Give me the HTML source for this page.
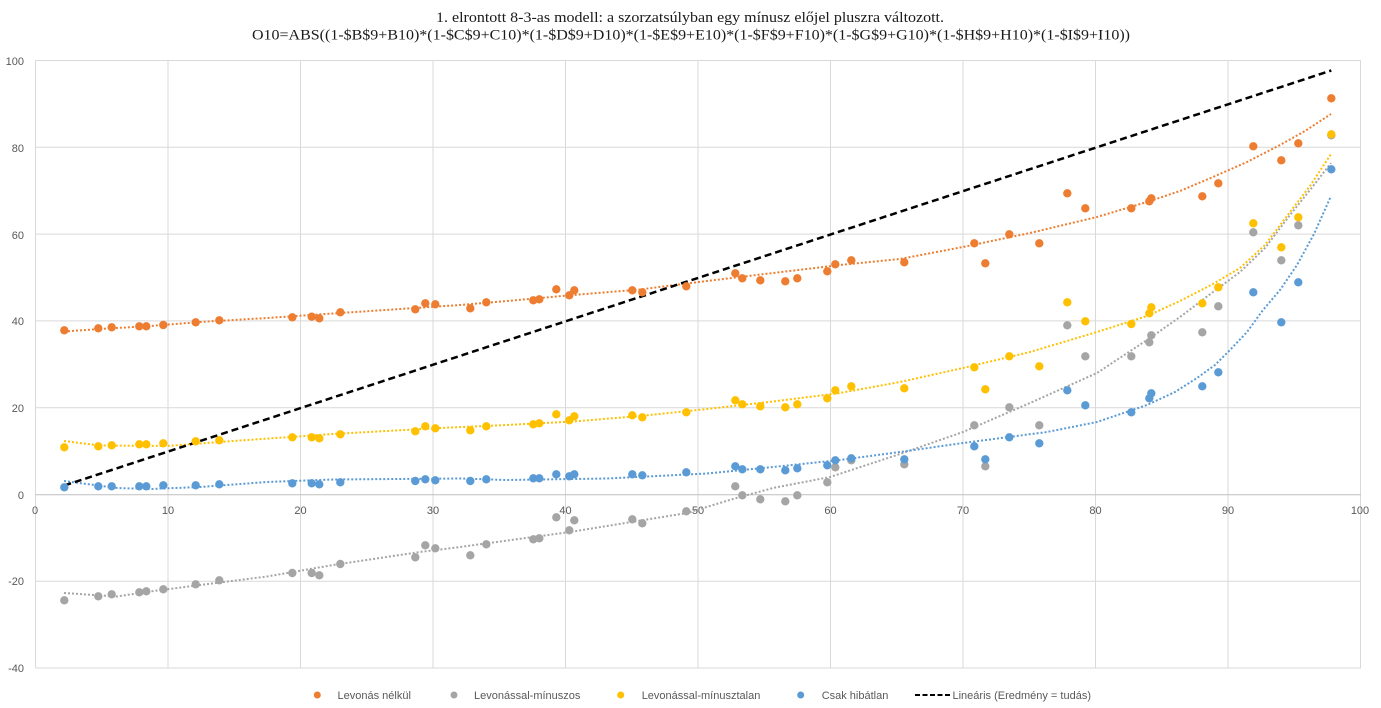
<!DOCTYPE html>
<html><head><meta charset="utf-8"><style>
html,body{margin:0;padding:0;background:#fff;}
svg{display:block;}
.t{font-family:"Liberation Sans",sans-serif;font-size:11px;fill:#595959;}
.ti{font-family:"Liberation Serif",serif;font-size:15px;fill:#1a1a1a;}
</style></head><body>
<svg xmlns="http://www.w3.org/2000/svg" width="1381" height="708" viewBox="0 0 1381 708">
<rect width="1381" height="708" fill="#fff"/>
<text class="ti" x="436" y="22" textLength="508" lengthAdjust="spacingAndGlyphs">1. elrontott 8-3-as modell: a szorzatsúlyban egy mínusz előjel pluszra változott.</text>
<text class="ti" x="252" y="39.5" textLength="878" lengthAdjust="spacingAndGlyphs">O10=ABS((1-$B$9+B10)*(1-$C$9+C10)*(1-$D$9+D10)*(1-$E$9+E10)*(1-$F$9+F10)*(1-$G$9+G10)*(1-$H$9+H10)*(1-$I$9+I10))</text>
<g stroke="#d9d9d9" stroke-width="1">
<line x1="35.5" y1="60.5" x2="1361" y2="60.5"/>
<line x1="35.5" y1="147.3" x2="1361" y2="147.3"/>
<line x1="35.5" y1="234.1" x2="1361" y2="234.1"/>
<line x1="35.5" y1="320.9" x2="1361" y2="320.9"/>
<line x1="35.5" y1="407.7" x2="1361" y2="407.7"/>
<line x1="35.5" y1="581.3" x2="1361" y2="581.3"/>
<line x1="35.5" y1="668" x2="1361" y2="668"/>
<line x1="35.5" y1="60" x2="35.5" y2="668"/>
<line x1="168" y1="60" x2="168" y2="668"/>
<line x1="300.5" y1="60" x2="300.5" y2="668"/>
<line x1="433" y1="60" x2="433" y2="668"/>
<line x1="565.5" y1="60" x2="565.5" y2="668"/>
<line x1="698" y1="60" x2="698" y2="668"/>
<line x1="830.5" y1="60" x2="830.5" y2="668"/>
<line x1="963" y1="60" x2="963" y2="668"/>
<line x1="1095.5" y1="60" x2="1095.5" y2="668"/>
<line x1="1228" y1="60" x2="1228" y2="668"/>
<line x1="1360.5" y1="60" x2="1360.5" y2="668"/>
</g>
<line x1="35.5" y1="494.8" x2="1361" y2="494.8" stroke="#bfbfbf" stroke-width="1"/>
<g class="t" text-anchor="end">
<text x="24" y="65">100</text>
<text x="24" y="152">80</text>
<text x="24" y="239">60</text>
<text x="24" y="325">40</text>
<text x="24" y="412">20</text>
<text x="24" y="499">0</text>
<text x="24" y="585">-20</text>
<text x="24" y="672">-40</text>
</g>
<g class="t" text-anchor="middle">
<text x="35" y="514">0</text>
<text x="168" y="514">10</text>
<text x="300.5" y="514">20</text>
<text x="433" y="514">30</text>
<text x="565.5" y="514">40</text>
<text x="698" y="514">50</text>
<text x="830.5" y="514">60</text>
<text x="963" y="514">70</text>
<text x="1095.5" y="514">80</text>
<text x="1228" y="514">90</text>
<text x="1360" y="514">100</text>
</g>
<g fill="none" stroke-width="2" stroke-dasharray="2 2">
<polyline stroke="#ED7D31" points="64,331.5 100,329 150,326 200,322 267,318 333,313.5 400,309 460,305 507,301 573,295 640,289.5 707,281 773,273 840,265 900,259 963,247 1030,233 1097,217 1147,202 1180,191 1213,177 1247,162 1280,145 1305,131 1331,114"/>
<polyline stroke="#A5A5A5" points="64,593 117,596.5 150,591.5 200,585 267,576.5 333,565 420,552 460,547 570,532 687,513 733,499 773,488 830,477 900,454 963,432 1030,403 1097,373 1147,340 1180,317 1213,292 1240,272 1265,248 1290,215 1310,190 1331,163"/>
<polyline stroke="#FFC000" points="64,441 100,445.5 167,446 233,441 333,434 440,428 507,425 573,421.5 640,416 707,409 773,401.5 840,393 900,382 963,368 1030,352 1097,332 1147,316 1180,301 1213,284 1240,268 1265,245 1290,212 1310,186 1331,154"/>
<polyline stroke="#5B9BD5" points="64,481 117,488 150,489 200,487 267,482 333,479.5 460,478.5 507,480 607,478.5 707,473.5 773,467 840,460 900,452 963,443 1047,432 1097,422 1147,405 1175,392 1197,378 1215,365 1230,350 1247,332 1263,310 1280,290 1297,265 1314,234 1331,196"/>
</g>
<line x1="64.3" y1="485.5" x2="1331.3" y2="70.5" stroke="#000" stroke-width="2.5" stroke-dasharray="7 4"/>
<g id="dots">
<g fill="#ED7D31">
<circle cx="64.3" cy="330.3" r="4.2"/><circle cx="98.3" cy="328.3" r="4.2"/><circle cx="111.7" cy="327.3" r="4.2"/><circle cx="139.3" cy="326.3" r="4.2"/><circle cx="146.3" cy="326.3" r="4.2"/><circle cx="163.3" cy="325" r="4.2"/><circle cx="195.7" cy="322.3" r="4.2"/><circle cx="219.3" cy="320.3" r="4.2"/><circle cx="292.3" cy="317.3" r="4.2"/><circle cx="311.7" cy="316.7" r="4.2"/><circle cx="319.3" cy="318.3" r="4.2"/><circle cx="340.3" cy="312.3" r="4.2"/><circle cx="415.3" cy="309.3" r="4.2"/><circle cx="425.3" cy="303.3" r="4.2"/><circle cx="435.3" cy="304.3" r="4.2"/><circle cx="470.3" cy="308.3" r="4.2"/><circle cx="486.3" cy="302.3" r="4.2"/><circle cx="533.3" cy="300.3" r="4.2"/><circle cx="539.3" cy="299.3" r="4.2"/><circle cx="556.3" cy="289.3" r="4.2"/><circle cx="569.3" cy="295.3" r="4.2"/><circle cx="574.3" cy="290.3" r="4.2"/><circle cx="632.3" cy="290.3" r="4.2"/><circle cx="642.3" cy="292.3" r="4.2"/><circle cx="686.3" cy="286.3" r="4.2"/><circle cx="735.3" cy="273.3" r="4.2"/><circle cx="742.3" cy="278.3" r="4.2"/><circle cx="760.3" cy="280.3" r="4.2"/><circle cx="785.3" cy="281.3" r="4.2"/><circle cx="797.3" cy="278.3" r="4.2"/><circle cx="827.3" cy="271.3" r="4.2"/><circle cx="835.3" cy="264.3" r="4.2"/><circle cx="851.3" cy="260.3" r="4.2"/><circle cx="904.3" cy="262.3" r="4.2"/><circle cx="974.3" cy="243.3" r="4.2"/><circle cx="985.3" cy="263.3" r="4.2"/><circle cx="1009.3" cy="234.3" r="4.2"/><circle cx="1039.3" cy="243.3" r="4.2"/><circle cx="1067.3" cy="193.3" r="4.2"/><circle cx="1085.3" cy="208.3" r="4.2"/><circle cx="1131.3" cy="208.3" r="4.2"/><circle cx="1149.3" cy="201.3" r="4.2"/><circle cx="1151.3" cy="198.3" r="4.2"/><circle cx="1202.3" cy="196.3" r="4.2"/><circle cx="1218.3" cy="183.3" r="4.2"/><circle cx="1253.3" cy="146.3" r="4.2"/><circle cx="1281.3" cy="160.3" r="4.2"/><circle cx="1298.3" cy="143.3" r="4.2"/><circle cx="1331.3" cy="98.3" r="4.2"/>
</g>
<g fill="#A5A5A5">
<circle cx="64.3" cy="600.3" r="4.2"/><circle cx="98.3" cy="596.3" r="4.2"/><circle cx="111.7" cy="594.3" r="4.2"/><circle cx="139.3" cy="592.3" r="4.2"/><circle cx="146.3" cy="591.3" r="4.2"/><circle cx="163.3" cy="589.3" r="4.2"/><circle cx="195.7" cy="584.3" r="4.2"/><circle cx="219.3" cy="580.3" r="4.2"/><circle cx="292.3" cy="573" r="4.2"/><circle cx="311.7" cy="573" r="4.2"/><circle cx="319.3" cy="575.3" r="4.2"/><circle cx="340.3" cy="564" r="4.2"/><circle cx="415.3" cy="557.3" r="4.2"/><circle cx="425.3" cy="545.3" r="4.2"/><circle cx="435.3" cy="548.3" r="4.2"/><circle cx="470.3" cy="555.3" r="4.2"/><circle cx="486.3" cy="544.3" r="4.2"/><circle cx="533.3" cy="539.3" r="4.2"/><circle cx="539.3" cy="538.3" r="4.2"/><circle cx="556.3" cy="517.3" r="4.2"/><circle cx="569.3" cy="530.3" r="4.2"/><circle cx="574.3" cy="520.3" r="4.2"/><circle cx="632.3" cy="519.3" r="4.2"/><circle cx="642.3" cy="523.3" r="4.2"/><circle cx="686.3" cy="511.3" r="4.2"/><circle cx="735.3" cy="486.3" r="4.2"/><circle cx="742.3" cy="495.3" r="4.2"/><circle cx="760.3" cy="499.3" r="4.2"/><circle cx="785.3" cy="501.3" r="4.2"/><circle cx="797.3" cy="495.3" r="4.2"/><circle cx="827.3" cy="482.3" r="4.2"/><circle cx="835.3" cy="467.3" r="4.2"/><circle cx="851.3" cy="460.3" r="4.2"/><circle cx="904.3" cy="464.3" r="4.2"/><circle cx="974.3" cy="425.3" r="4.2"/><circle cx="985.3" cy="466.3" r="4.2"/><circle cx="1009.3" cy="407.3" r="4.2"/><circle cx="1039.3" cy="425.3" r="4.2"/><circle cx="1067.3" cy="325.3" r="4.2"/><circle cx="1085.3" cy="356.3" r="4.2"/><circle cx="1131.3" cy="356.3" r="4.2"/><circle cx="1149.3" cy="342.3" r="4.2"/><circle cx="1151.3" cy="335.3" r="4.2"/><circle cx="1202.3" cy="332.3" r="4.2"/><circle cx="1218.3" cy="306.3" r="4.2"/><circle cx="1253.3" cy="232.3" r="4.2"/><circle cx="1281.3" cy="260.3" r="4.2"/><circle cx="1298.3" cy="225.3" r="4.2"/><circle cx="1331.3" cy="135.3" r="4.2"/>
</g>
<g fill="#FFC000">
<circle cx="64.3" cy="447.3" r="4.2"/><circle cx="98.3" cy="446.3" r="4.2"/><circle cx="111.7" cy="445.3" r="4.2"/><circle cx="139.3" cy="444.3" r="4.2"/><circle cx="146.3" cy="444.3" r="4.2"/><circle cx="163.3" cy="443.3" r="4.2"/><circle cx="195.7" cy="441.3" r="4.2"/><circle cx="219.3" cy="440.3" r="4.2"/><circle cx="292.3" cy="437.3" r="4.2"/><circle cx="311.7" cy="437.3" r="4.2"/><circle cx="319.3" cy="438.3" r="4.2"/><circle cx="340.3" cy="434.3" r="4.2"/><circle cx="415.3" cy="431.3" r="4.2"/><circle cx="425.3" cy="426.3" r="4.2"/><circle cx="435.3" cy="428.3" r="4.2"/><circle cx="470.3" cy="430.3" r="4.2"/><circle cx="486.3" cy="426.3" r="4.2"/><circle cx="533.3" cy="424.3" r="4.2"/><circle cx="539.3" cy="423.3" r="4.2"/><circle cx="556.3" cy="414.3" r="4.2"/><circle cx="569.3" cy="420.3" r="4.2"/><circle cx="574.3" cy="416.3" r="4.2"/><circle cx="632.3" cy="415.3" r="4.2"/><circle cx="642.3" cy="417.3" r="4.2"/><circle cx="686.3" cy="412.3" r="4.2"/><circle cx="735.3" cy="400.3" r="4.2"/><circle cx="742.3" cy="404.3" r="4.2"/><circle cx="760.3" cy="406.3" r="4.2"/><circle cx="785.3" cy="407.3" r="4.2"/><circle cx="797.3" cy="404.3" r="4.2"/><circle cx="827.3" cy="398.3" r="4.2"/><circle cx="835.3" cy="390.3" r="4.2"/><circle cx="851.3" cy="386.3" r="4.2"/><circle cx="904.3" cy="388.3" r="4.2"/><circle cx="974.3" cy="367.3" r="4.2"/><circle cx="985.3" cy="389.3" r="4.2"/><circle cx="1009.3" cy="356.3" r="4.2"/><circle cx="1039.3" cy="366.3" r="4.2"/><circle cx="1067.3" cy="302.3" r="4.2"/><circle cx="1085.3" cy="321.3" r="4.2"/><circle cx="1131.3" cy="324" r="4.2"/><circle cx="1149.3" cy="313.3" r="4.2"/><circle cx="1151.3" cy="307.3" r="4.2"/><circle cx="1202.3" cy="303.3" r="4.2"/><circle cx="1218.3" cy="287.3" r="4.2"/><circle cx="1253.3" cy="223.3" r="4.2"/><circle cx="1281.3" cy="247.3" r="4.2"/><circle cx="1298.3" cy="217.3" r="4.2"/><circle cx="1331.3" cy="134.3" r="4.2"/>
</g>
<g fill="#5B9BD5">
<circle cx="64.3" cy="487.3" r="4.2"/><circle cx="98.3" cy="486.3" r="4.2"/><circle cx="111.7" cy="486.3" r="4.2"/><circle cx="139.3" cy="486.3" r="4.2"/><circle cx="146.3" cy="486.3" r="4.2"/><circle cx="163.3" cy="485.3" r="4.2"/><circle cx="195.7" cy="485.3" r="4.2"/><circle cx="219.3" cy="484.3" r="4.2"/><circle cx="292.3" cy="483.3" r="4.2"/><circle cx="311.7" cy="483.3" r="4.2"/><circle cx="319.3" cy="484.3" r="4.2"/><circle cx="340.3" cy="482.3" r="4.2"/><circle cx="415.3" cy="481" r="4.2"/><circle cx="425.3" cy="479.3" r="4.2"/><circle cx="435.3" cy="480.3" r="4.2"/><circle cx="470.3" cy="481" r="4.2"/><circle cx="486.3" cy="479.3" r="4.2"/><circle cx="533.3" cy="478.3" r="4.2"/><circle cx="539.3" cy="478.3" r="4.2"/><circle cx="556.3" cy="474.3" r="4.2"/><circle cx="569.3" cy="476.3" r="4.2"/><circle cx="574.3" cy="474.3" r="4.2"/><circle cx="632.3" cy="474.3" r="4.2"/><circle cx="642.3" cy="475.3" r="4.2"/><circle cx="686.3" cy="472.3" r="4.2"/><circle cx="735.3" cy="466.3" r="4.2"/><circle cx="742.3" cy="469.3" r="4.2"/><circle cx="760.3" cy="469.3" r="4.2"/><circle cx="785.3" cy="470.3" r="4.2"/><circle cx="797.3" cy="468.3" r="4.2"/><circle cx="827.3" cy="465.3" r="4.2"/><circle cx="835.3" cy="460.3" r="4.2"/><circle cx="851.3" cy="458.3" r="4.2"/><circle cx="904.3" cy="459.3" r="4.2"/><circle cx="974.3" cy="446.3" r="4.2"/><circle cx="985.3" cy="459.3" r="4.2"/><circle cx="1009.3" cy="437.3" r="4.2"/><circle cx="1039.3" cy="443.3" r="4.2"/><circle cx="1067.3" cy="390.3" r="4.2"/><circle cx="1085.3" cy="405.3" r="4.2"/><circle cx="1131.3" cy="412.3" r="4.2"/><circle cx="1149.3" cy="398.3" r="4.2"/><circle cx="1151.3" cy="393.3" r="4.2"/><circle cx="1202.3" cy="386.3" r="4.2"/><circle cx="1218.3" cy="372.3" r="4.2"/><circle cx="1253.3" cy="292.3" r="4.2"/><circle cx="1281.3" cy="322.3" r="4.2"/><circle cx="1298.3" cy="282.3" r="4.2"/><circle cx="1331.3" cy="169.3" r="4.2"/>
</g>
</g>
<g class="t">
<circle cx="317.3" cy="695" r="3.5" fill="#ED7D31"/>
<text x="337.5" y="699">Levonás nélkül</text>
<circle cx="454" cy="695" r="3.5" fill="#A5A5A5"/>
<text x="474" y="699">Levonással-mínuszos</text>
<circle cx="620.7" cy="695" r="3.5" fill="#FFC000"/>
<text x="641.7" y="699">Levonással-mínusztalan</text>
<circle cx="800.7" cy="695" r="3.5" fill="#5B9BD5"/>
<text x="821.7" y="699">Csak hibátlan</text>
<line x1="915" y1="695" x2="950" y2="695" stroke="#000" stroke-width="2" stroke-dasharray="5 2.5"/>
<text x="952.5" y="699">Lineáris (Eredmény = tudás)</text>
</g>
</svg>
</body></html>
